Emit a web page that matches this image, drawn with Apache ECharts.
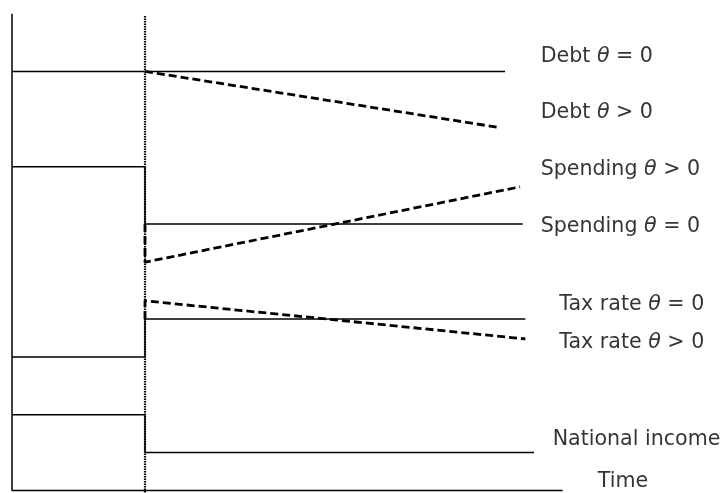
<!DOCTYPE html>
<html>
<head>
<meta charset="utf-8">
<script src="https://cdn.jsdelivr.net/npm/echarts@6/dist/echarts.min.js"></script>
<style>
html,body{margin:0;padding:0;background:#fff;}
#chart{width:726px;height:493px;}
</style>
</head>
<body>
<div id="chart"></div>
<script>
// Time units (shock at t = 10), level units (0..100)
var shockTime = 10;
var axisTop = 100;
var axisEnd = 41.4;

var debtBase = [[0, 87.9], [37.07, 87.9]];
var debtTheta = [[10, 87.9], [36.7, 76.1]];
var spendBase = [[0, 67.9], [10, 67.9], [10, 55.9], [38.4, 55.9]];
var spendTheta = [[10, 55.9], [10, 47.9], [38.2, 63.7]];
var taxBase = [[0, 28.0], [10, 28.0], [10, 36.0], [38.6, 36.0]];
var taxTheta = [[10, 36.0], [10, 39.8], [38.6, 31.8]];
var incomeBase = [[0, 15.9], [10, 15.9], [10, 8.0], [39.25, 8.0]];

var labelNames = ['Debt', 'Debt', 'Spending', 'Spending', 'Tax rate', 'Tax rate', 'National income', 'Time'];
var labelSigns = ['=', '>', '>', '=', '=', '>', '', ''];
var labelX = [39.75, 39.75, 39.75, 39.75, 41.15, 41.15, 40.65, 44.05];
var labelY = [91.0, 79.2, 67.2, 55.3, 38.9, 31.0, 10.6, 1.9];

var chart = echarts.init(document.getElementById('chart'), null, {renderer: 'canvas'});

function solid(data) {
  return {type: 'line', data: data, symbol: 'none', silent: true, clip: false,
    lineStyle: {color: '#000', width: 1.5, type: 'solid'}, z: 3};
}
function dashed(data) {
  return {type: 'line', data: data, symbol: 'none', silent: true, clip: false,
    lineStyle: {color: '#000', width: 2.8, type: [8, 4]}, z: 4};
}

var labelData = labelNames.map(function (n, i) {
  return {value: [labelX[i], labelY[i]], name: n, sign: labelSigns[i]};
});

var option = {
  animation: false,
  backgroundColor: '#fff',
  grid: {left: 12, width: 665, top: 13.7, bottom: 0, containLabel: false},
  xAxis: {type: 'value', min: 0, max: 50, show: false},
  yAxis: {type: 'value', min: -0.5, max: 100, show: false},
  series: [
    // axes
    solid([[0, axisTop], [0, 0], [axisEnd, 0]]),
    // dotted shock line
    {type: 'line', data: [[shockTime, 99.5], [shockTime, -0.5]], symbol: 'none', silent: true, clip: false,
      lineStyle: {color: '#000', width: 2.2, type: [1.5, 1]}, z: 2},
    solid(debtBase),
    dashed(debtTheta),
    solid(spendBase),
    dashed(spendTheta),
    solid(taxBase),
    dashed(taxTheta),
    solid(incomeBase),
    {
      type: 'scatter', symbolSize: 0, silent: true, clip: false,
      data: labelData,
      label: {
        show: true, position: 'right', distance: 0, color: '#000',
        formatter: function (p) {
          if (!p.data.sign) return '{a|' + p.data.name + '}';
          return '{a|' + p.data.name + ' }{b|\u03b8}{a| ' + p.data.sign + ' 0}';
        },
        rich: {
          a: {fontFamily: 'DejaVu Sans', fontSize: 20.6, color: '#000'},
          b: {fontFamily: 'DejaVu Sans', fontSize: 20.6, fontStyle: 'italic', color: '#000'}
        }
      }
    }
  ]
};
chart.setOption(option);
</script>
</body>
</html>
